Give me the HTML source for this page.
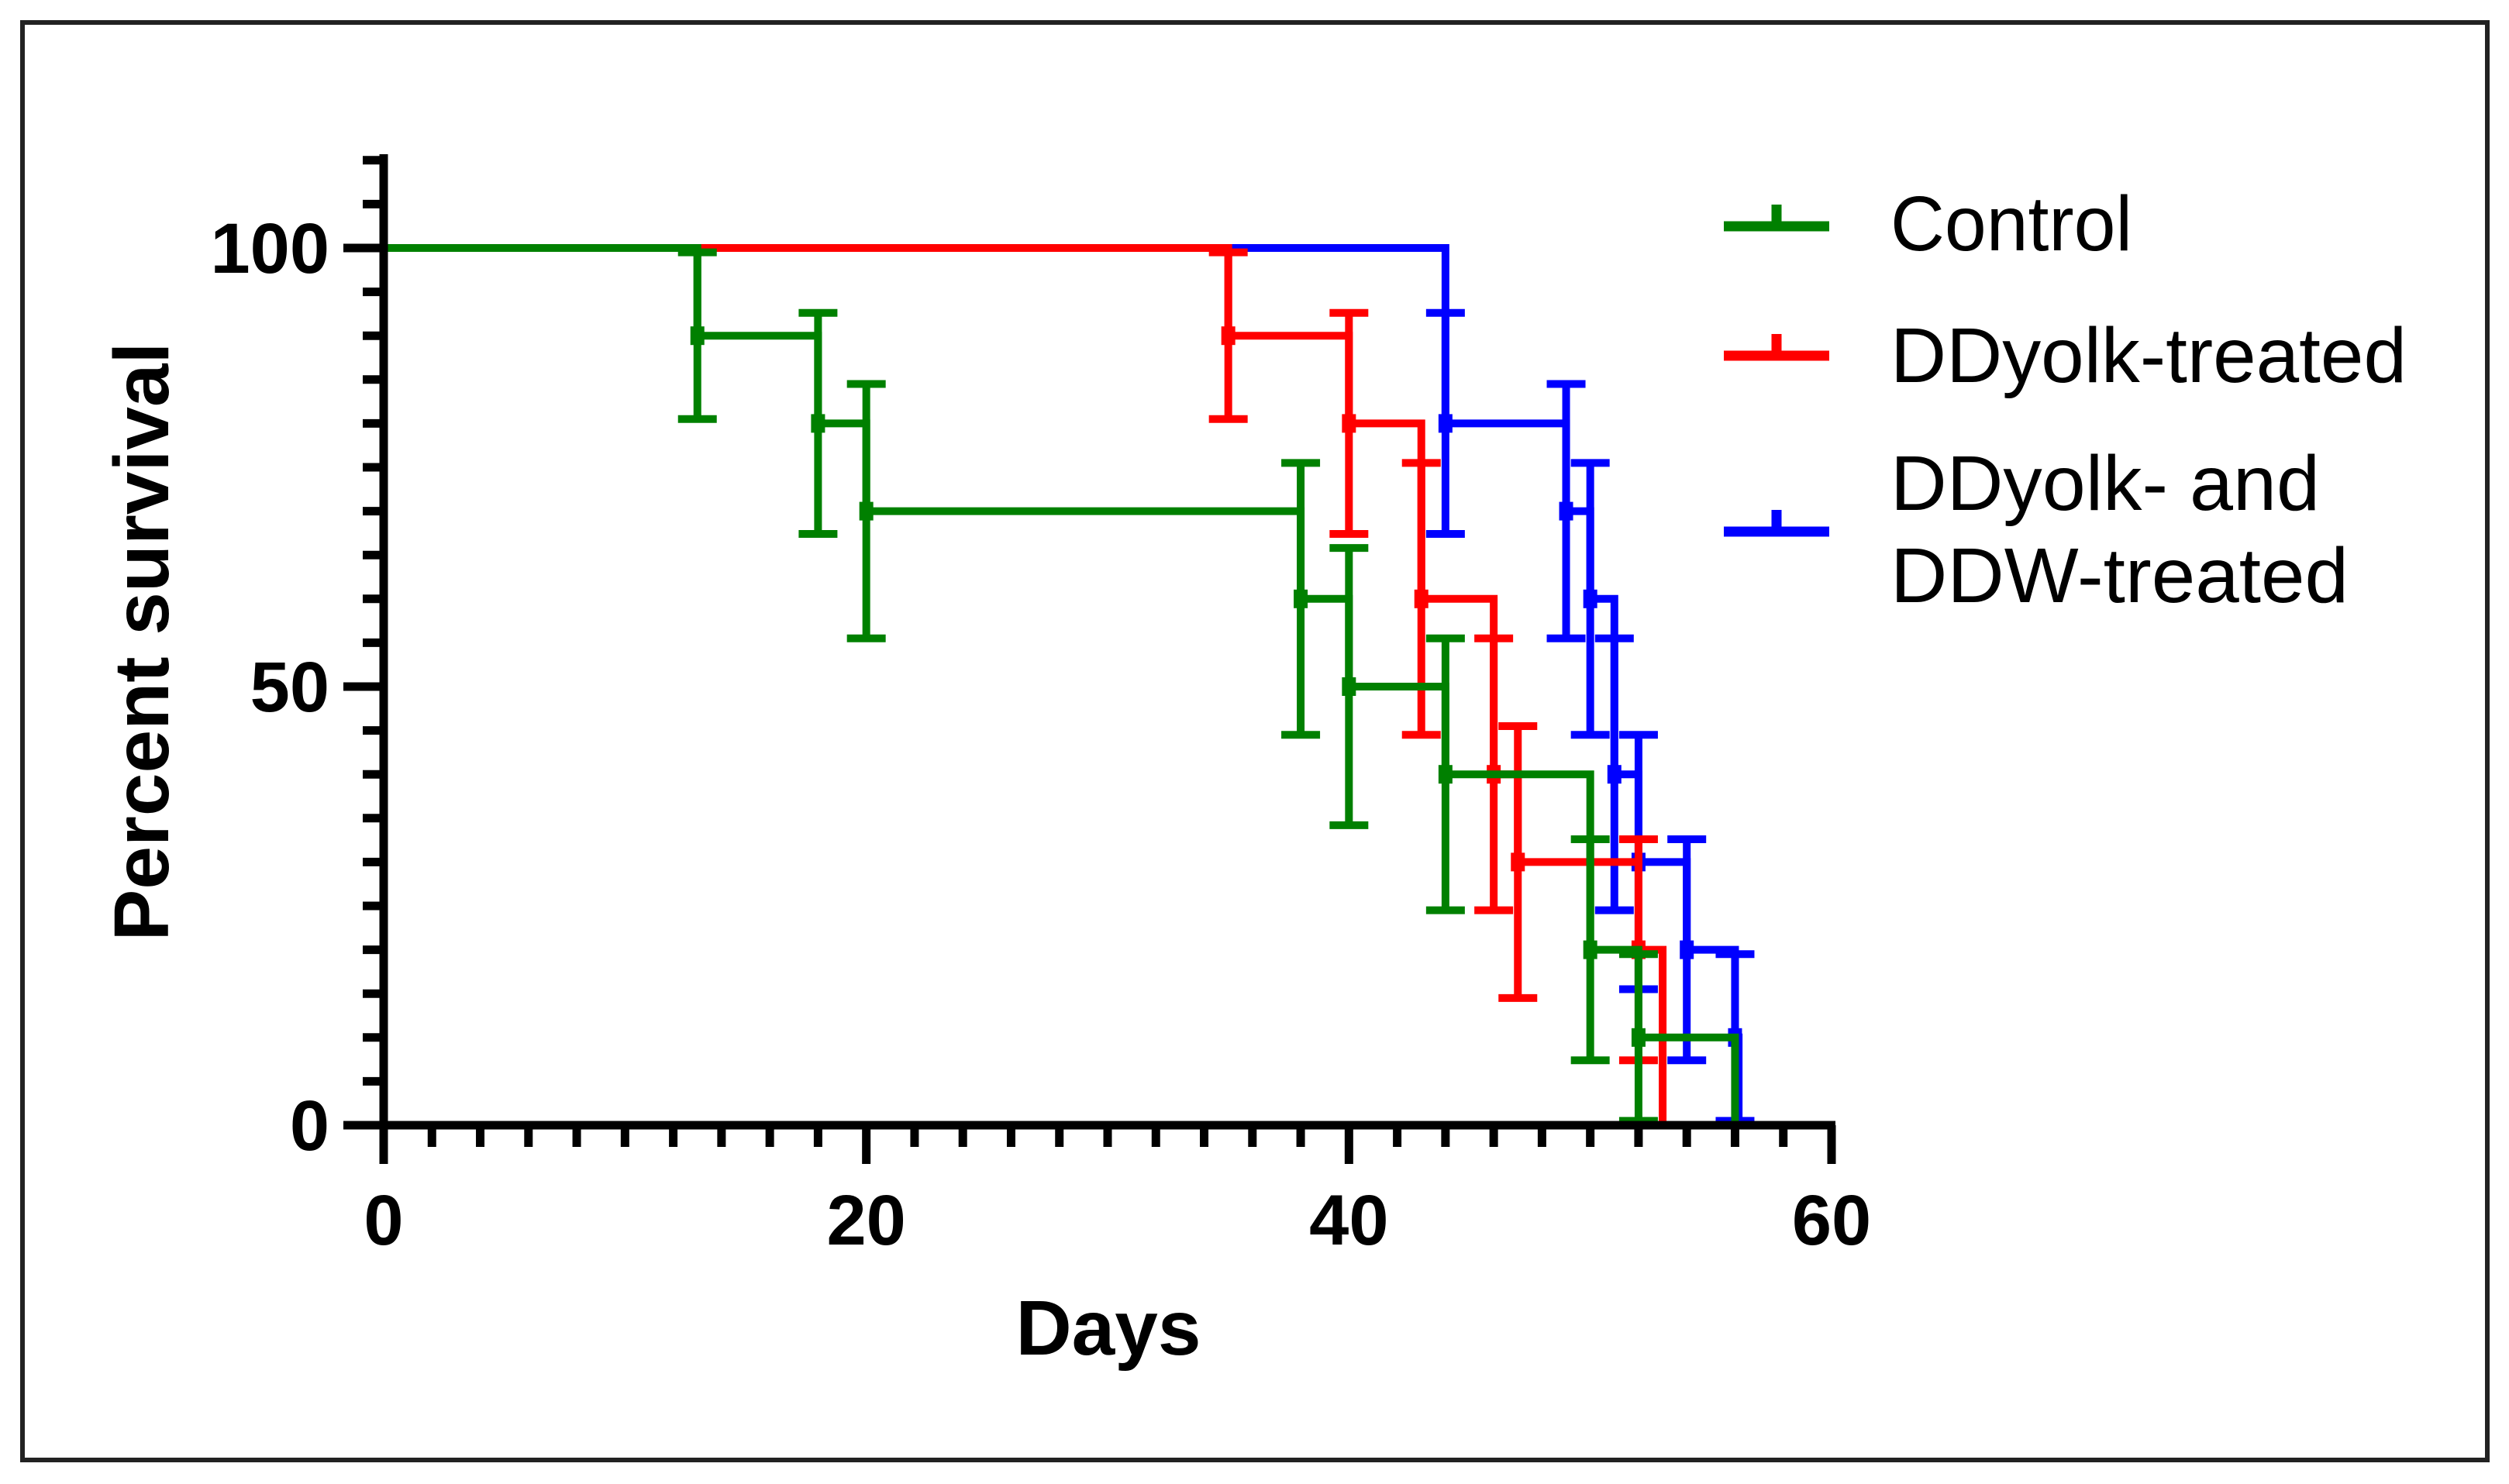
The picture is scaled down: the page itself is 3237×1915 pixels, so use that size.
<!DOCTYPE html>
<html><head><meta charset="utf-8"><style>
html,body{margin:0;padding:0;background:#fff}
svg{display:block}
text{font-family:"Liberation Sans",Arial,sans-serif}
</style></head><body>
<svg id="chart" width="3237" height="1915" viewBox="0 0 3237 1915" xmlns="http://www.w3.org/2000/svg">
<rect x="29" y="29" width="3180" height="1855" fill="#fff" stroke="#222" stroke-width="6"/>
<g id="plot"></g>
<g id="axes"></g>
<text transform="translate(217,828) rotate(-90)" text-anchor="middle" font-size="100" font-weight="bold">Percent survival</text>
<text x="1430" y="1748" text-anchor="middle" font-size="100" font-weight="bold">Days</text>
<g id="legend"></g>
</svg>
<script>
// ---- data ----
const seriesNames = ["DDyolk- and DDW-treated", "DDyolk-treated", "Control"];
const seriesColors = ["#0000ff", "#ff0000", "#008000"];
const blueDays = [0, 44, 49, 50, 51, 52, 54, 56, 56.15];
const blueSurv = [100, 80, 70, 60, 40, 30, 20, 10, 0];
const blueErr  = [0, 12.6, 14.5, 15.5, 15.5, 14.5, 12.6, 9.5, 0];
const redDays = [0, 35, 40, 43, 46, 47, 52, 53];
const redSurv = [100, 90, 80, 60, 40, 30, 20, 0];
const redErr  = [0, 9.5, 12.6, 15.5, 15.5, 15.5, 12.6, 0];
const greenDays = [0, 13, 18, 20, 38, 40, 44, 50, 52, 56];
const greenSurv = [100, 90, 80, 70, 60, 50, 40, 20, 10, 0];
const greenErr  = [0, 9.5, 12.6, 14.5, 15.5, 15.8, 15.5, 12.6, 9.5, 0];
const xTicks = [0, 20, 40, 60];
const yTicks = [0, 50, 100];
const legendLabels = [["Control"], ["DDyolk-treated"], ["DDyolk- and", "DDW-treated"]];

// ---- scales ----
const X0 = 495, X1 = 2363, Y0 = 1452, Y100 = 320;
const xs = d => X0 + (d / 60) * (X1 - X0);
const ys = v => Y0 - (v / 100) * (Y0 - Y100);
const NS = "http://www.w3.org/2000/svg";
function mk(tag, attrs, parent) {
  const e = document.createElementNS(NS, tag);
  for (const k in attrs) e.setAttribute(k, attrs[k]);
  parent.appendChild(e);
  return e;
}
const plot = document.getElementById('plot');
const axes = document.getElementById('axes');
const legend = document.getElementById('legend');

const allSeries = [[blueDays, blueSurv, blueErr], [redDays, redSurv, redErr], [greenDays, greenSurv, greenErr]];
const keys = ['blue', 'red', 'green'];
allSeries.forEach((s, si) => {
  const [d, v, e] = s;
  const col = seriesColors[si];
  const g = mk('g', {}, plot);
  
  
  let p = 'M' + xs(d[0]) + ',' + ys(v[0]);
  for (let i = 1; i < d.length; i++) {
    p += ' H' + xs(d[i]) + ' V' + ys(v[i]);
  }
  const line = mk('path', {d: p, fill: 'none', stroke: col, 'stroke-width': 10, 'stroke-linejoin': 'miter'}, g);
  
  
  for (let i = 1; i < d.length; i++) {
    if (e[i] <= 0) continue;
    const cx = xs(d[i]);
    const lo = Math.max(0, v[i] - e[i]), hi = Math.min(100, v[i] + e[i]);
    const eb = mk('path', {d: 'M' + cx + ',' + ys(lo) + ' V' + ys(hi) + ' M' + (cx - 25) + ',' + ys(lo) + ' h50 M' + (cx - 25) + ',' + ys(hi) + ' h50', stroke: col, 'stroke-width': 10, fill: 'none'}, g);
    
    
    const mkr = mk('rect', {x: cx - 9, y: ys(v[i]) - 12, width: 18, height: 24, fill: col}, g);
    
    
  }
});

// ---- axes ----
const yAxis = mk('line', {x1: X0, y1: 199, x2: X0, y2: Y0 + 5, stroke: '#000', 'stroke-width': 11}, axes);


const xAxis = mk('line', {x1: X0 - 52, y1: Y0, x2: X1 + 5, y2: Y0, stroke: '#000', 'stroke-width': 11}, axes);


for (let v = 0; v <= 110; v += 5) {
  const major = v % 50 === 0;
  const t = mk('line', {x1: X0 - (major ? 52 : 27), y1: ys(v), x2: X0, y2: ys(v), stroke: '#000', 'stroke-width': 11}, axes);
  
  
}
for (let d = 0; d <= 60; d += 2) {
  const major = d % 20 === 0;
  const t = mk('line', {x1: xs(d), y1: Y0, x2: xs(d), y2: Y0 + (major ? 50 : 28), stroke: '#000', 'stroke-width': 11}, axes);
  
  
}
yTicks.forEach(v => {
  const t = mk('text', {x: 425, y: ys(v) + 32, 'text-anchor': 'end', 'font-size': 92, 'font-weight': 'bold'}, axes);
  t.textContent = String(v);
  
  
});
xTicks.forEach(d => {
  const t = mk('text', {x: xs(d), y: 1606, 'text-anchor': 'middle', 'font-size': 92, 'font-weight': 'bold'}, axes);
  t.textContent = String(d);
  
  
});

// ---- legend ----
const legColors = [seriesColors[2], seriesColors[1], seriesColors[0]];
const legLineY = [292, 459, 686];
const legTextY = [[323], [493], [658, 777]];
const legTextW = [[312], [666], [554, 591]];
legendLabels.forEach((lines, i) => {
  const g = mk('g', {}, legend);
  
  
  const sw = mk('path', {d: 'M2224,' + legLineY[i] + ' H2360 M2292,' + legLineY[i] + ' v-28', stroke: legColors[i], 'stroke-width': 13, fill: 'none'}, g);
  
  
  lines.forEach((txt, j) => {
    const t = mk('text', {x: 2439, y: legTextY[i][j], 'font-size': 100, textLength: legTextW[i][j], lengthAdjust: 'spacingAndGlyphs'}, g);
    t.textContent = txt;
    
    
  });
});
</script>
</body></html>
